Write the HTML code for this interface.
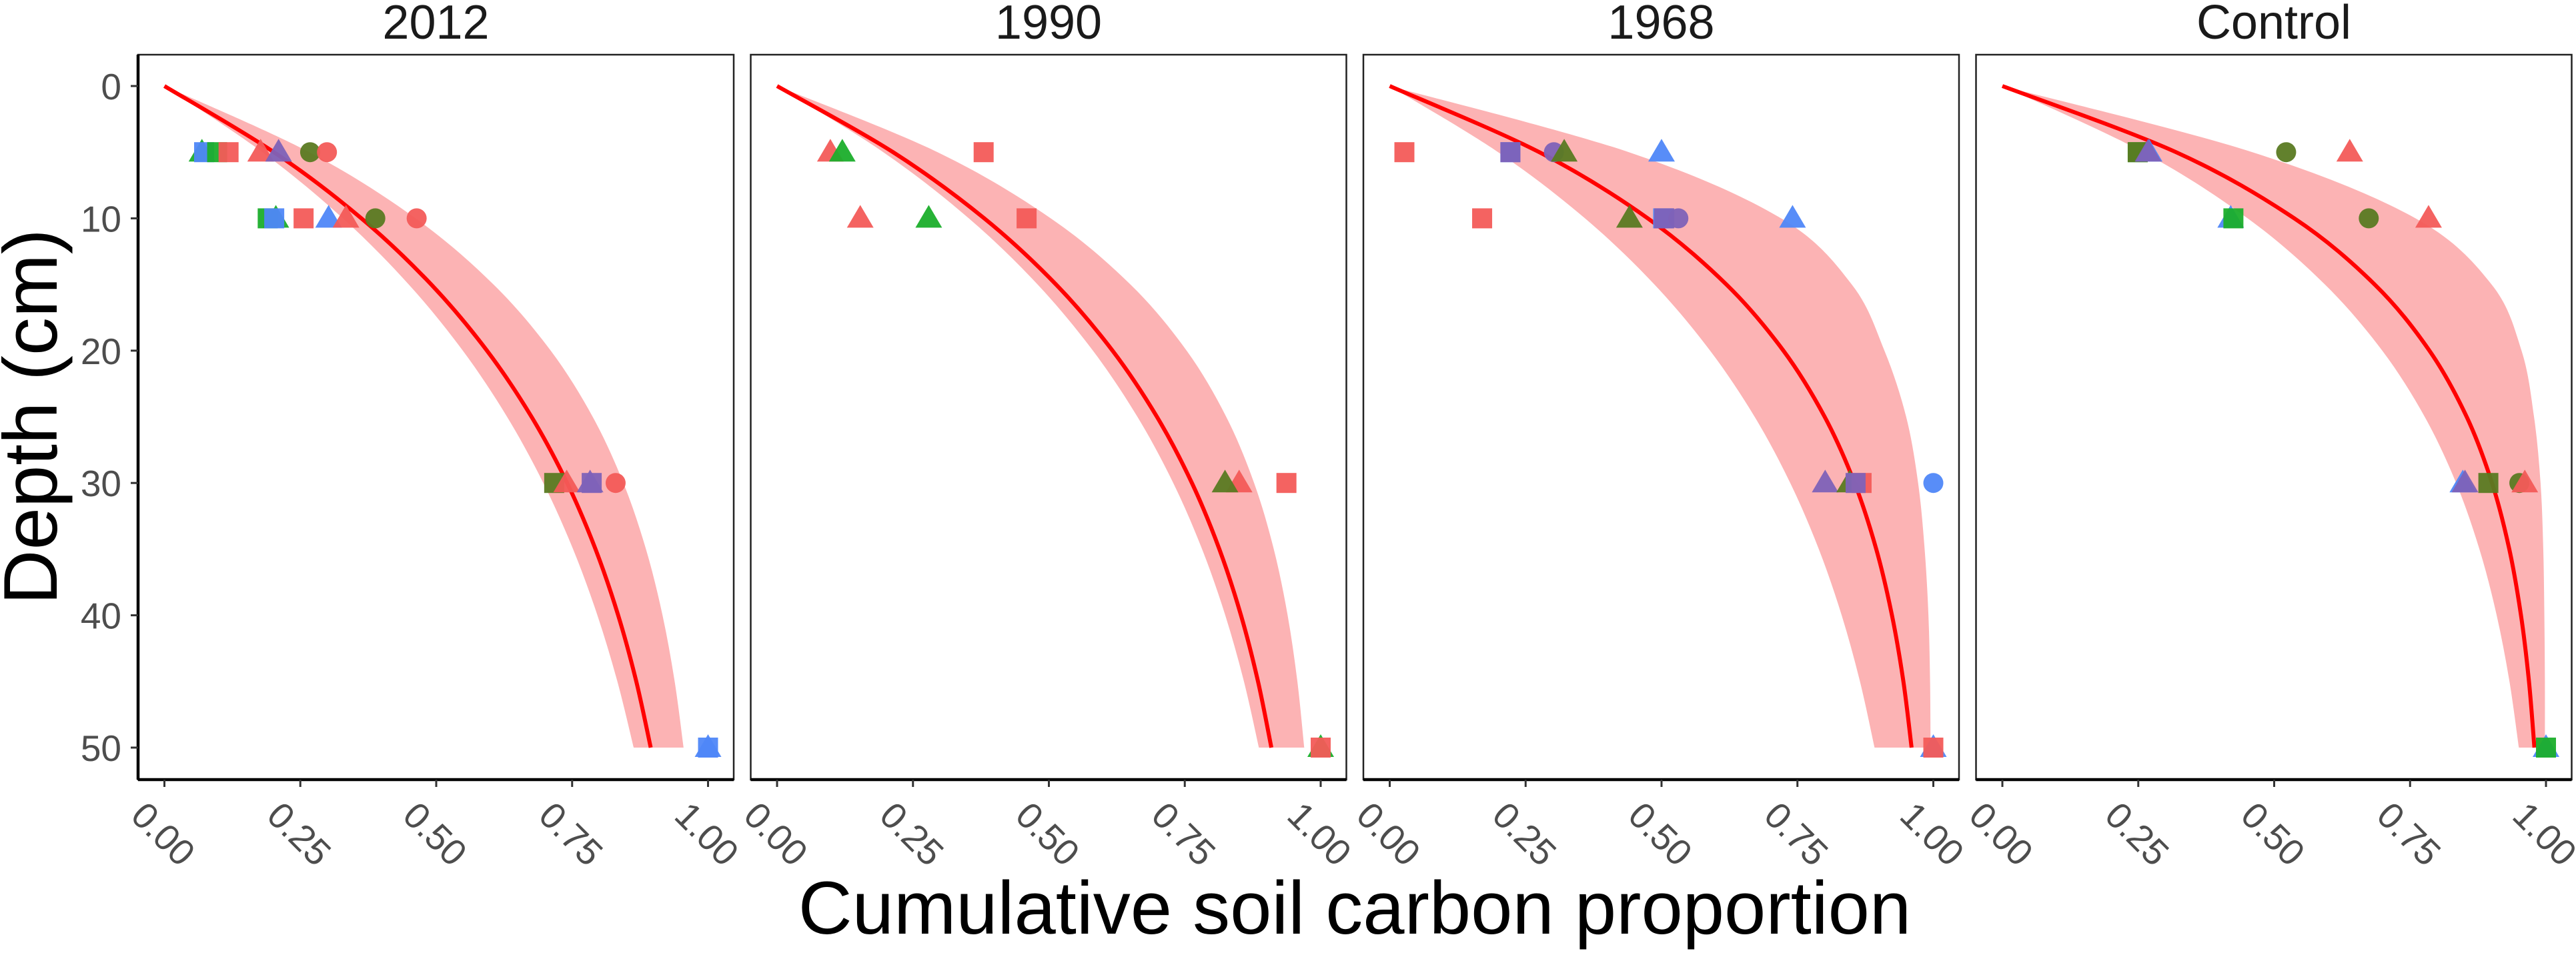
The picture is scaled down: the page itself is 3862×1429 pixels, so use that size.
<!DOCTYPE html>
<html><head><meta charset="utf-8"><style>
html,body{margin:0;padding:0;background:#fff;}
svg{display:block;font-family:"Liberation Sans",Arial,sans-serif;}
</style></head><body>
<svg id="chart" width="3862" height="1429" viewBox="0 0 3862 1429" xmlns="http://www.w3.org/2000/svg">
<text transform="translate(85,625) rotate(-90)" text-anchor="middle" font-size="114" fill="#000">Depth (cm)</text>
<text x="2031" y="1400" text-anchor="middle" font-size="112" fill="#000">Cumulative soil carbon proportion</text>
</svg>
<script>
const panelTitles = ["2012","1990","1968","Control"];
const curveDepths = [0,5,10,15,20,25,30,35,40,45,50];
const fit2012 = [0,0.2015,0.3624,0.4908,0.5934,0.6753,0.7408,0.7930,0.8347,0.8680,0.8946];
const lo2012  = [0,0.1804,0.3283,0.4495,0.5489,0.6303,0.6970,0.7517,0.7965,0.8332,0.8633];
const hi2012  = [0,0.2666,0.4621,0.6054,0.7106,0.7878,0.8443,0.8858,0.9163,0.9386,0.9550];
const fit1990 = [0,0.2134,0.3812,0.5132,0.6171,0.6988,0.7631,0.8136,0.8534,0.8847,0.9093];
const lo1990  = [0,0.1955,0.3527,0.4793,0.5810,0.6629,0.7288,0.7818,0.8245,0.8588,0.8864];
const hi1990  = [0,0.2953,0.5034,0.6501,0.7534,0.8262,0.8775,0.9137,0.9392,0.9571,0.9698];
const fit1968 = [0,0.2753,0.4748,0.6194,0.7242,0.8001,0.8551,0.8950,0.9239,0.9449,0.9600];
const lo1968  = [0,0.1995,0.3592,0.4870,0.5893,0.6713,0.7368,0.7893,0.8314,0.8650,0.8919];
const hi1968  = [0,0.44,0.72,0.85,0.91,0.95,0.972,0.984,0.991,0.994,0.995];
const fitCtl  = [0,0.3195,0.5370,0.6849,0.7856,0.8541,0.9007,0.9325,0.9540,0.9687,0.9787];
const loCtl   = [0,0.2592,0.4512,0.5934,0.6988,0.7769,0.8347,0.8775,0.9093,0.9328,0.9502];
const hiCtl   = [0,0.46,0.76,0.90,0.955,0.978,0.99,0.995,0.997,0.998,0.998];
const fits = [fit2012, fit1990, fit1968, fitCtl];
const lows = [lo2012, lo1990, lo1968, loCtl];
const highs = [hi2012, hi1990, hi1968, hiCtl];
// points: panel index, proportion, depth, shape, colour
const ptPanel = [0,0,0,0,0,0,0,0, 0,0,0,0,0,0,0,0, 0,0,0,0,0, 0,0,
 1,1,1, 1,1,1, 1,1,1, 1,1,
 2,2,2,2,2,2, 2,2,2,2,2,2, 2,2,2,2,2, 2,2,
 3,3,3,3,3,3, 3,3,3,3, 3,3,3,3,3, 3,3];
const ptValue = [0.069,0.073,0.097,0.118,0.177,0.21,0.268,0.299, 0.205,0.19,0.202,0.256,0.302,0.334,0.388,0.464, 0.717,0.74,0.783,0.786,0.83, 1.0,1.0,
 0.098,0.12,0.38, 0.153,0.279,0.459, 0.85,0.824,0.937, 1.0,1.0,
 0.027,0.222,0.222,0.302,0.321,0.5, 0.17,0.441,0.503,0.505,0.531,0.741, 0.801,0.846,0.868,0.857,1.0, 1.0,1.0,
 0.249,0.249,0.27,0.268,0.522,0.639, 0.42,0.425,0.674,0.784, 0.847,0.851,0.894,0.951,0.961, 1.0,1.0];
const ptDepth = [5,5,5,5,5,5,5,5, 10,10,10,10,10,10,10,10, 30,30,30,30,30, 50,50,
 5,5,5, 10,10,10, 30,30,30, 50,50,
 5,5,5,5,5,5, 10,10,10,10,10,10, 30,30,30,30,30, 50,50,
 5,5,5,5,5,5, 10,10,10,10, 30,30,30,30,30, 50,50];
const ptShape = ["t","s","s","s","t","t","c","c", "t","s","s","s","t","t","c","c", "s","t","t","s","c", "t","s",
 "t","t","s", "t","t","s", "t","t","s", "t","s",
 "s","s","s","c","t","t", "s","t","s","s","c","t", "t","t","s","s","c", "t","s",
 "s","s","t","t","c","t", "t","s","c","t", "t","t","s","c","t", "t","s"];
const ptColor = ["g","b","g","r","r","p","o","r", "g","g","b","r","b","r","o","r", "o","r","p","p","r", "b","b",
 "r","g","r", "r","g","r", "r","o","r", "g","r",
 "r","b","p","p","o","b", "r","o","b","p","p","b", "p","o","r","p","b", "b","r",
 "g","o","b","p","o","r", "b","g","o","r", "b","p","o","o","r", "b","g"];
const xTicks = [0,0.25,0.5,0.75,1.0];
const xTickLabels = ["0.00","0.25","0.50","0.75","1.00"];
const yTicks = [0,10,20,30,40,50];
const yTickLabels = ["0","10","20","30","40","50"];

const NS = "http://www.w3.org/2000/svg";
const svg = document.getElementById("chart");
const colors = {r:"#F35B58",g:"#1BAE2B",b:"#4F87F8",p:"#7E62B8",o:"#5A7A22"};
const panelLefts = [207,1125.5,2044,2962.5];
const PW = 893, PT = 82, PB = 1169;
function xs(p, v){ return panelLefts[p] + 39.5 + v*815; }
function ys(d){ return 129 + d*19.84; }
function mk(tag, attrs, parent){ const e = document.createElementNS(NS, tag); for (const k in attrs) e.setAttribute(k, attrs[k]); (parent||svg).appendChild(e); return e; }
function segs(pts){
  let d = "";
  for (let i=0;i<pts.length-1;i++){
    const p0=pts[Math.max(0,i-1)], p1=pts[i], p2=pts[i+1], p3=pts[Math.min(pts.length-1,i+2)];
    const c1=[p1[0]+(p2[0]-p0[0])/6, p1[1]+(p2[1]-p0[1])/6];
    const c2=[p2[0]-(p3[0]-p1[0])/6, p2[1]-(p3[1]-p1[1])/6];
    d += " C"+c1[0]+","+c1[1]+" "+c2[0]+","+c2[1]+" "+p2[0]+","+p2[1];
  }
  return d;
}
for (let p=0;p<4;p++){
  const L = panelLefts[p];
  const g = mk("g", {});
  
  
  const t = mk("text", {x:L+PW/2, y:58, "text-anchor":"middle", "font-size":72, fill:"#1a1a1a"}, g);
  
  
  t.textContent = panelTitles[p];
  const loP = curveDepths.map((d,i)=>[xs(p,lows[p][i]), ys(d)]);
  const hiP = curveDepths.map((d,i)=>[xs(p,highs[p][i]), ys(d)]).reverse();
  const bd = "M"+loP[0][0]+","+loP[0][1] + segs(loP) + " L"+hiP[0][0]+","+hiP[0][1] + segs(hiP) + " Z";
  const band = mk("path", {d:bd, fill:"#FCB3B4", stroke:"none"}, g);
  
  
  const fp = curveDepths.map((d,i)=>[xs(p,fits[p][i]), ys(d)]);
  const fitPath = mk("path", {d:"M"+fp[0][0]+","+fp[0][1]+segs(fp), fill:"none", stroke:"#FF0000", "stroke-width":6}, g);
  
  
  const fr = mk("rect", {x:L, y:PT, width:PW, height:PB-PT, fill:"none", stroke:"#222", "stroke-width":2.5}, g);
  
  
  const xa = mk("line", {x1:L, y1:PB, x2:L+PW, y2:PB, stroke:"#000", "stroke-width":4.5}, g);
  
  
  if (p===0){
    const ya = mk("line", {x1:L, y1:PT, x2:L, y2:PB, stroke:"#000", "stroke-width":4.5}, g);
    
    
    yTicks.forEach((v,i)=>{
      const tk = mk("line", {x1:L-11, y1:ys(v), x2:L, y2:ys(v), stroke:"#333", "stroke-width":3}, g);
      
      
      const tl = mk("text", {x:L-25, y:ys(v)+20, "text-anchor":"end", "font-size":55, fill:"#4d4d4d"}, g);
      
      
      tl.textContent = yTickLabels[i];
    });
  }
  xTicks.forEach((v,i)=>{
    const x = xs(p,v);
    const tk = mk("line", {x1:x, y1:PB, x2:x, y2:PB+11, stroke:"#333", "stroke-width":3}, g);
    
    
    const tl = mk("text", {transform:"translate("+(x-53)+",1226) rotate(45)", "font-size":55, fill:"#4d4d4d"}, g);
    
    
    tl.textContent = xTickLabels[i];
  });
}
for (let i=0;i<ptValue.length;i++){
  const p = ptPanel[i], cx = xs(p, ptValue[i]), cy = ys(ptDepth[i]), c = colors[ptColor[i]];
  let e;
  if (ptShape[i]==="s") e = mk("rect", {x:cx-15, y:cy-15, width:30, height:30, fill:c});
  else if (ptShape[i]==="c") e = mk("circle", {cx:cx, cy:cy, r:15, fill:c});
  else e = mk("polygon", {points:(cx)+","+(cy-20)+" "+(cx+20)+","+(cy+14)+" "+(cx-20)+","+(cy+14), fill:c});
  
  
  e.setAttribute('fill-opacity', '0.95');
}
</script>
</body></html>
